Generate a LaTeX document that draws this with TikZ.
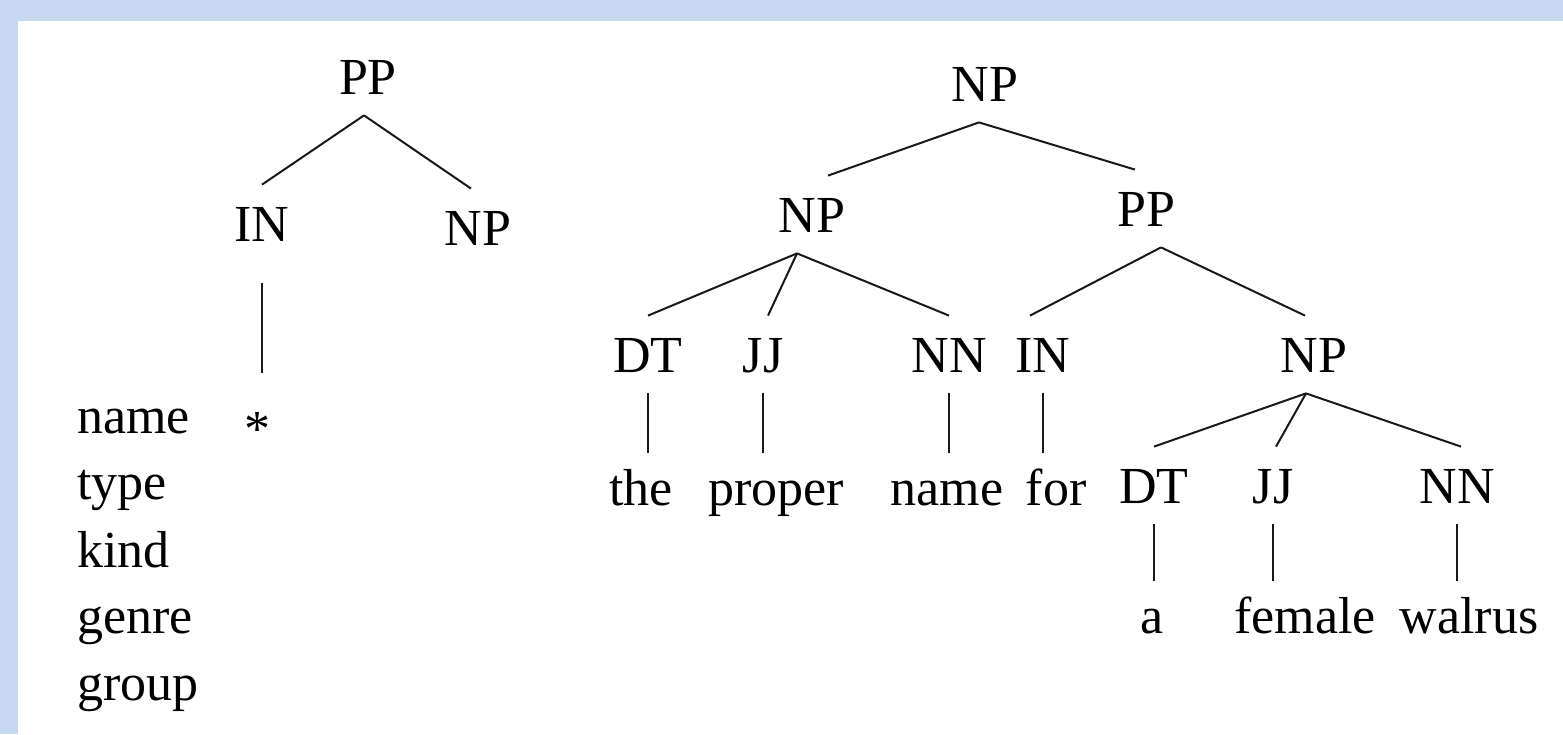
\documentclass[tikz,border=0pt]{standalone}
\usepackage{fontspec}
\setmainfont{Liberation Serif}
\usepackage{tikz}
\usetikzlibrary{calc}
\usepackage{xcolor}
\definecolor{FrameBlue}{HTML}{C6D9F1}

\begin{document}
\begin{tikzpicture}[x=0.5pt,y=-0.5pt,
  tag/.style={font=\fontsize{26}{30}\selectfont,anchor=base,inner xsep=0pt,inner ysep=10.5pt,text height=17.5pt,text depth=0pt},
  word/.style={font=\fontsize{26}{30}\selectfont,anchor=base,inner xsep=0pt,inner ysep=14pt,text height=12pt,text depth=0pt},
  lbl/.style={font=\fontsize{26}{30}\selectfont,anchor=base west,inner sep=0pt},
  e/.style={line width=1pt,draw=black!90}]
\useasboundingbox (0,0) rectangle (1563,734);
\fill[FrameBlue] (0,0) rectangle (1563,734);
\fill[white] (18,21) rectangle (1563,734);
% left tree
\node[tag] (pp1) at (368,94) {PP};
\node[tag] (in1) at (262,241) {IN};
\node[tag] (np1) at (478,245) {NP};
\node[word] (st) at (257,446) {*};
\draw[e] ([xshift=-2pt]pp1.south) -- (in1.north);
\draw[e] ([xshift=-2pt]pp1.south) -- ([xshift=-3.5pt]np1.north);
\draw[e] ([yshift=-10.5pt]in1.south) -- ([yshift=10.5pt]in1.south |- st.north);
\node[lbl] (w1) at (77,433) {name};
\node[lbl] (w2) at (77,499) {type};
\node[lbl] (w3) at (77,567) {kind};
\node[lbl] (w4) at (77,633) {genre};
\node[lbl] (w5) at (77,700) {group};
% right tree
\node[tag] (np0) at (985,101) {NP};
\node[tag] (np2) at (812,232) {NP};
\node[tag] (pp2) at (1146,226) {PP};
\node[tag] (dt1) at (648,372) {DT};
\node[tag] (jj1) at (763,372) {JJ};
\node[tag] (nn1) at (949,372) {NN};
\node[tag] (in2) at (1043,372) {IN};
\node[tag] (np3) at (1314,372) {NP};
\node[tag] (dt2) at (1154,503) {DT};
\node[tag] (jj2) at (1273,503) {JJ};
\node[tag] (nn2) at (1457,503) {NN};
\node[word] (the) at (641,505) {the};
\node[word] (prop) at (776,505) {proper};
\node[word] (nm) at (947,505) {name};
\node[word] (for) at (1056,505) {for};
\node[word] (a) at (1152,633) {a};
\node[word] (fem) at (1305,633) {female};
\node[word] (wal) at (1469,633) {walrus};
\draw[e] ([xshift=-3pt]np0.south) -- ([xshift=8pt]np2.north);
\draw[e] ([xshift=-3pt]np0.south) -- ([xshift=-5.5pt]pp2.north);
\draw[e] ([xshift=-7.5pt]np2.south) -- (dt1.north);
\draw[e] ([xshift=-7.5pt]np2.south) -- ([xshift=2.5pt]jj1.north);
\draw[e] ([xshift=-7.5pt]np2.south) -- (nn1.north);
\draw[e] ([xshift=7.5pt]pp2.south) -- ([xshift=-6.5pt]in2.north);
\draw[e] ([xshift=7.5pt]pp2.south) -- ([xshift=-4.5pt]np3.north);
\draw[e] ([xshift=-4pt]np3.south) -- (dt2.north);
\draw[e] ([xshift=-4pt]np3.south) -- ([xshift=1.5pt]jj2.north);
\draw[e] ([xshift=-4pt]np3.south) -- ([xshift=2pt]nn2.north);
\draw[e] (dt1.south) -- (dt1.south |- the.north);
\draw[e] (jj1.south) -- (jj1.south |- prop.north);
\draw[e] (nn1.south) -- (nn1.south |- nm.north);
\draw[e] (in2.south) -- (in2.south |- for.north);
\draw[e] (dt2.south) -- (dt2.south |- a.north);
\draw[e] (jj2.south) -- (jj2.south |- fem.north);
\draw[e] (nn2.south) -- (nn2.south |- wal.north);
\end{tikzpicture}
\end{document}
